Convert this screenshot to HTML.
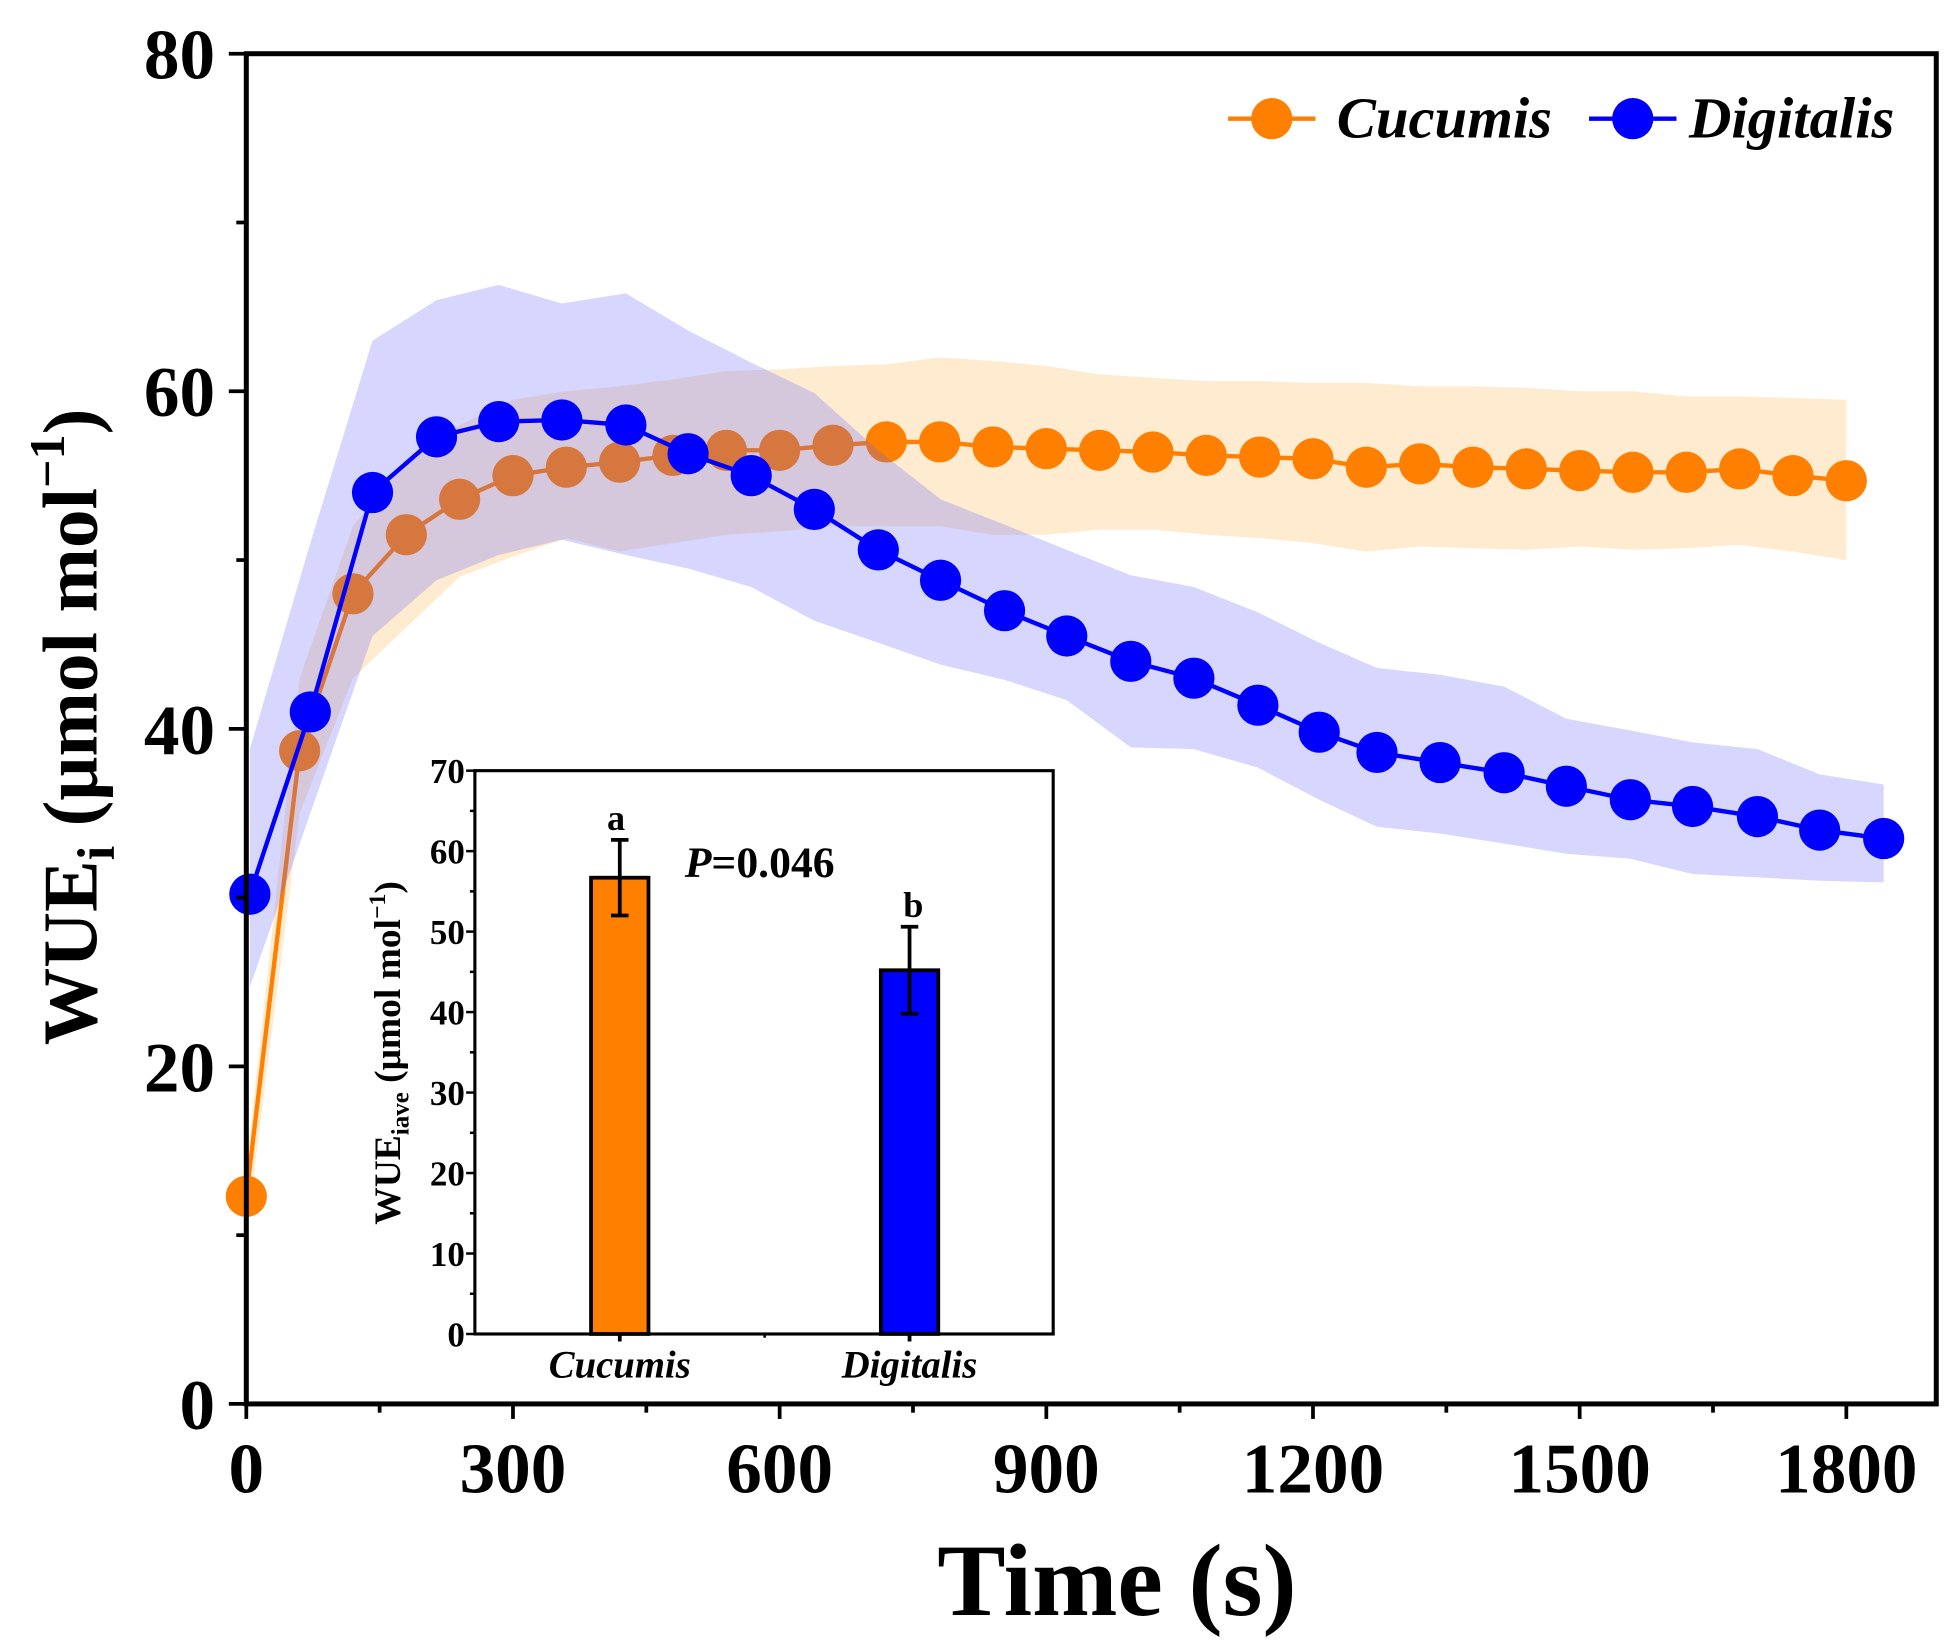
<!DOCTYPE html>
<html><head><meta charset="utf-8"><style>
html,body{margin:0;padding:0;background:#fff;}
svg{display:block;font-family:"Liberation Serif","DejaVu Serif",serif;font-weight:bold;}
</style></head><body>
<svg id="chart" width="1949" height="1645" viewBox="0 0 1560 1317" xmlns="http://www.w3.org/2000/svg">
<g id="bands"></g>
<g id="series"></g>
<g id="axes"></g>
<g id="inset"></g>
</svg>
<script>
const cucTime=[0,60,120,180,240,300,360,420,480,540,600,660,720,780,840,900,960,1020,1080,1140,1200,1260,1320,1380,1440,1500,1560,1620,1680,1740,1800];
const cucMean=[12.3,38.7,48,51.5,53.6,55,55.5,55.8,56.2,56.5,56.5,56.8,57,57,56.7,56.6,56.5,56.4,56.2,56.1,56,55.5,55.7,55.5,55.4,55.3,55.2,55.2,55.4,55,54.7];
const cucUpper=[14,43,52,56,58,59.5,60,60.3,60.7,61.2,61.3,61.5,61.6,62,61.8,61.5,61,60.8,60.6,60.6,60.5,60.5,60.3,60.3,60.2,60,60,59.7,59.7,59.6,59.5];
const cucLower=[10,35,43,46,49,50.2,51.3,50.5,51,51.5,51.7,52,52,52,51.5,51.5,51.8,51.8,51.5,51.3,51,50.5,50.8,50.7,50.6,50.8,50.6,50.7,50.9,50.5,50];
const digTime=[4,72,142,214,284,355,427,497,568,639,711,781,853,923,995,1066,1138,1207,1272,1343,1415,1485,1557,1627,1700,1770,1842];
const digMean=[30.2,41,54,57.3,58.2,58.3,58,56.3,55,53,50.6,48.8,47,45.5,44,43,41.4,39.8,38.6,38,37.4,36.6,35.8,35.4,34.8,34,33.5];
const digUpper=[38.8,51,63,65.4,66.3,65.2,65.8,63.6,61.7,59.9,56.5,53.6,52.1,50.6,49.1,48.4,46.9,45.1,43.6,43.2,42.5,40.6,39.9,39.2,38.8,37.3,36.7];
const digLower=[24.7,35,45.5,48.8,50.3,51.2,50.3,49.5,48.4,46.4,45.1,43.8,42.9,41.7,38.9,38.8,37.7,35.8,34.2,33.8,33.2,32.6,32.3,31.4,31.2,31,30.9];
const xTicks=[0,300,600,900,1200,1500,1800];
const yTicks=[0,20,40,60,80];
const insetCats=["Cucumis","Digitalis"];
const insetMeans=[56.7,45.2];
const insetErr=[4.7,5.4];
const insetLetters=["a","b"];
const insetTicks=[0,10,20,30,40,50,60,70];

const NS="http://www.w3.org/2000/svg";
function el(tag,attrs,parent,text){const e=document.createElementNS(NS,tag);for(const k in attrs)e.setAttribute(k,attrs[k]);if(text!==undefined)e.textContent=text;parent.appendChild(e);return e;}
const X=t=>197+t*(1478-197)/1800;
const Y=v=>1124-v*(1124-43)/80;
const bands=document.getElementById('bands'),series=document.getElementById('series'),axes=document.getElementById('axes'),inset=document.getElementById('inset');

function band(t,up,lo,fill,name,parent){
  let d="M"+t.map((x,i)=>X(x)+","+Y(up[i])).join(" L");
  for(let i=t.length-1;i>=0;i--)d+=" L"+X(t[i])+","+Y(lo[i]);
  const p=el('path',{d:d+"Z",fill:fill,stroke:'none'},parent);
  
  
}
function line(t,m,color,name,parent){
  const g=el('g',{},parent);
  
  
  el('polyline',{points:t.map((x,i)=>X(x)+","+Y(m[i])).join(" "),fill:'none',stroke:color,'stroke-width':3.5},g);
  t.forEach((x,i)=>{
    const c=el('circle',{cx:X(x),cy:Y(m[i]),r:16.5,fill:color},g);
    
    
  });
}
const cg=el('g',{},series);
band(cucTime,cucUpper,cucLower,'rgba(255,170,40,0.22)','cucumis-band',cg);
line(cucTime,cucMean,'#ff8000','cucumis',cg);
const dg=el('g',{},series);
band(digTime,digUpper,digLower,'rgba(90,90,255,0.25)','digitalis-band',dg);
line(digTime,digMean,'#0000ff','digitalis',dg);

const frame=el('rect',{x:197,y:43,width:1353,height:1081,fill:'none',stroke:'#000','stroke-width':4},axes);


for(let t=0;t<=1800;t+=150){el('line',{x1:X(t),x2:X(t),y1:1124,y2:t%300===0?1136:1131,stroke:'#000','stroke-width':3},axes);}
for(let v=0;v<=80;v+=10){el('line',{x1:197,x2:v%20===0?183:189,y1:Y(v),y2:Y(v),stroke:'#000','stroke-width':3},axes);}
xTicks.forEach(t=>{const e=el('text',{x:X(t),y:1195,'font-size':57,'text-anchor':'middle'},axes,String(t));});
yTicks.forEach(v=>{const e=el('text',{x:172,y:Y(v)+20,'font-size':57,'text-anchor':'end'},axes,String(v));});
const xt=el('text',{x:894,y:1293,'font-size':82,'text-anchor':'middle'},axes,'Time (s)');

const yt=el('text',{transform:'translate(77,582) rotate(-90)','font-size':62,'text-anchor':'middle'},axes);

el('tspan',{},yt,'WUE');el('tspan',{'font-size':42,dy:14},yt,'i');el('tspan',{dy:-14},yt,' (μmol mol');el('tspan',{'font-size':40,dy:-26},yt,'−1');el('tspan',{dy:26},yt,')');

const lg=el('g',{},axes);

[[983,'#ff8000','Cucumis',1070],[1272,'#0000ff','Digitalis',1352]].forEach(([x,c,n,tx])=>{
  const g=el('g',{},lg);
  
  el('line',{x1:x,x2:x+70,y1:95,y2:95,stroke:c,'stroke-width':3.5},g);
  el('circle',{cx:x+35,cy:95,r:16.5,fill:c},g);
  el('text',{x:tx,y:110,'font-size':47,'font-style':'italic'},g,n);
});

const IL=380,IR=843,IT=617,IB=1068;
const IY=v=>IB-v*(IB-IT)/70;
const IX=[496,728];
const ib=el('rect',{x:IL,y:IT,width:IR-IL,height:IB-IT,fill:'#fff',stroke:'#000','stroke-width':2.5},inset);

for(let v=0;v<=70;v+=5){el('line',{x1:IL,x2:v%10===0?IL-7:IL-4,y1:IY(v),y2:IY(v),stroke:'#000','stroke-width':2},inset);}
insetTicks.forEach(v=>{const e=el('text',{x:IL-8,y:IY(v)+10,'font-size':28,'text-anchor':'end'},inset,String(v));});
el('line',{x1:612,x2:612,y1:IB,y2:IB+3,stroke:'#000','stroke-width':2},inset);
const bc=['#ff8000','#0000ff'];
insetCats.forEach((n,i)=>{
  const b=el('rect',{x:IX[i]-23,y:IY(insetMeans[i]),width:46,height:IB-IY(insetMeans[i]),fill:bc[i],stroke:'#000','stroke-width':3},inset);
  
  const hi=IY(insetMeans[i]+insetErr[i]),lo=IY(insetMeans[i]-insetErr[i]);
  const eg=el('g',{stroke:'#000','stroke-width':3},inset);
  
  el('line',{x1:IX[i],x2:IX[i],y1:hi,y2:lo},eg);
  el('line',{x1:IX[i]-7,x2:IX[i]+7,y1:hi,y2:hi},eg);
  el('line',{x1:IX[i]-7,x2:IX[i]+7,y1:lo,y2:lo},eg);
  el('line',{x1:IX[i],x2:IX[i],y1:IB,y2:IB+6},eg);
  const l=el('text',{x:IX[i]+(i?3:-3),y:hi-8,'font-size':29,'text-anchor':'middle'},inset,insetLetters[i]);
  
  const c=el('text',{x:IX[i],y:1103,'font-size':31,'font-style':'italic','text-anchor':'middle'},inset,n);
  
});
const p=el('text',{x:548,y:702,'font-size':35},inset);

el('tspan',{'font-style':'italic'},p,'P');el('tspan',{},p,'=0.046');
const iy=el('text',{transform:'translate(320,843) rotate(-90)','font-size':30,'text-anchor':'middle'},inset);

el('tspan',{},iy,'WUE');el('tspan',{'font-size':20,dy:7},iy,'iave');el('tspan',{dy:-7},iy,' (μmol mol');el('tspan',{'font-size':19,dy:-12},iy,'−1');el('tspan',{dy:12},iy,')');
</script>
</body></html>
